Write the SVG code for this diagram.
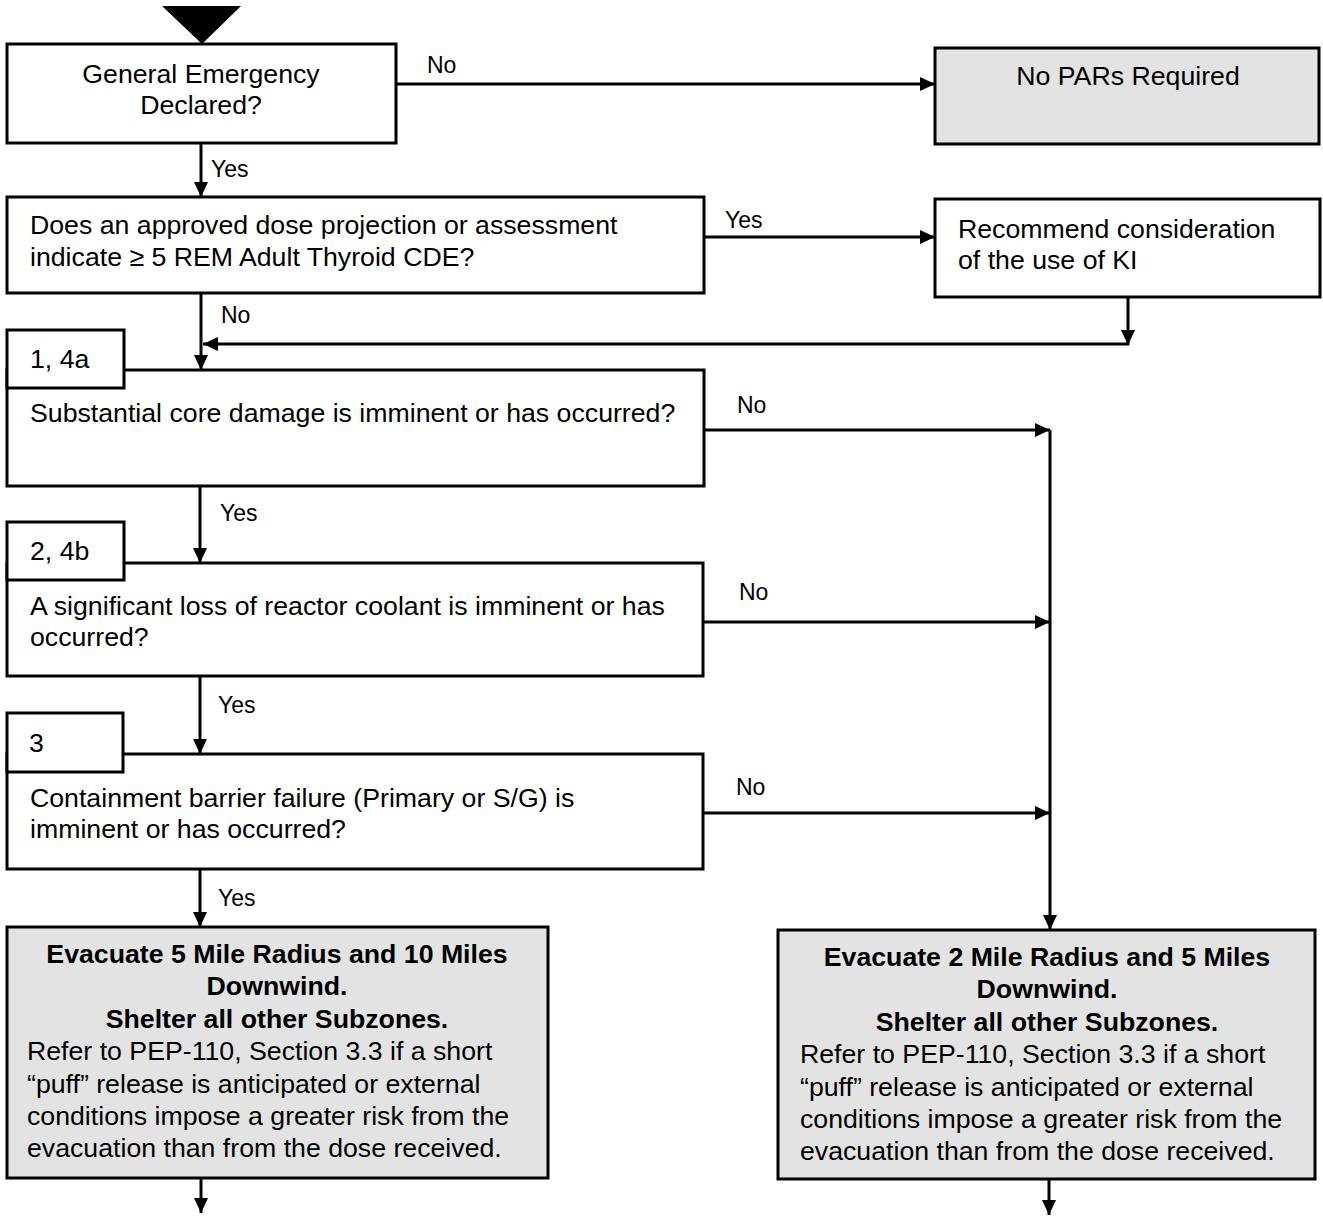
<svg xmlns="http://www.w3.org/2000/svg" width="1323" height="1218" viewBox="0 0 1323 1218">
<style>
text{font-family:"Liberation Sans",Arial,sans-serif;font-size:26.7px;fill:#000}
.lbl{font-size:23px}
.b{font-weight:bold}
.box{fill:#fff;stroke:#000;stroke-width:3}
.grey{fill:#e3e3e3;stroke:#000;stroke-width:3}
.c{fill:none;stroke:#000;stroke-width:3}
.mid{text-anchor:middle}
</style>
<defs>
<marker id="ah" markerUnits="userSpaceOnUse" markerWidth="16" markerHeight="14" refX="15" refY="7" orient="auto">
<path d="M0,0 L15,7 L0,14 z" fill="#000"/>
</marker>
</defs>
<rect width="1323" height="1218" fill="#fff"/>
<g id="start">
<polygon points="162,6 241,6 202,44" fill="#000"/>
</g>
<g id="connectors">
<path class="c" d="M396,84 H935" marker-end="url(#ah)"/>
<path class="c" d="M201,143 V197" marker-end="url(#ah)"/>
<path class="c" d="M704,237 H935" marker-end="url(#ah)"/>
<path class="c" d="M201,293 V370" marker-end="url(#ah)"/>
<path class="c" d="M1128,297 V345" marker-end="url(#ah)"/>
<path class="c" d="M1129,344 H203" marker-end="url(#ah)"/>
<path class="c" d="M704,430 H1050" marker-end="url(#ah)"/>
<path class="c" d="M200,486 V563" marker-end="url(#ah)"/>
<path class="c" d="M703,622 H1050" marker-end="url(#ah)"/>
<path class="c" d="M200,676 V754" marker-end="url(#ah)"/>
<path class="c" d="M703,813 H1050" marker-end="url(#ah)"/>
<path class="c" d="M200,869 V927" marker-end="url(#ah)"/>
<path class="c" d="M1050,430 V930" marker-end="url(#ah)"/>
<path class="c" d="M201,1178 V1213" marker-end="url(#ah)"/>
<path class="c" d="M1049,1179 V1215" marker-end="url(#ah)"/>
<text class="lbl" x="427" y="73">No</text>
<text class="lbl" x="211" y="177">Yes</text>
<text class="lbl" x="725" y="228">Yes</text>
<text class="lbl" x="221" y="323">No</text>
<text class="lbl" x="737" y="413">No</text>
<text class="lbl" x="220" y="521">Yes</text>
<text class="lbl" x="739" y="600">No</text>
<text class="lbl" x="218" y="713">Yes</text>
<text class="lbl" x="736" y="795">No</text>
<text class="lbl" x="218" y="906">Yes</text>
</g>
<g id="ge-declared">
<rect class="box" x="7" y="44" width="389" height="99"/>
<text class="mid" x="201" y="83">General Emergency</text>
<text class="mid" x="201" y="114">Declared?</text>
</g>
<g id="no-pars">
<rect class="grey" x="935" y="48" width="384" height="96"/>
<text class="mid" x="1128" y="85">No PARs Required</text>
</g>
<g id="dose-projection">
<rect class="box" x="7" y="197" width="697" height="96"/>
<text x="30" y="234">Does an approved dose projection or assessment</text>
<text x="30" y="266">indicate ≥ 5 REM Adult Thyroid CDE?</text>
</g>
<g id="ki">
<rect class="box" x="935" y="199" width="385" height="98"/>
<text x="958" y="238">Recommend consideration</text>
<text x="958" y="269">of the use of KI</text>
</g>
<g id="core-damage">
<rect class="box" x="7" y="370" width="697" height="116"/>
<rect class="box" x="7" y="330" width="117" height="58"/>
<text x="30" y="368">1, 4a</text>
<text x="30" y="422">Substantial core damage is imminent or has occurred?</text>
</g>
<g id="coolant-loss">
<rect class="box" x="7" y="563" width="696" height="113"/>
<rect class="box" x="7" y="522" width="117" height="58"/>
<text x="30" y="560">2, 4b</text>
<text x="30" y="615">A significant loss of reactor coolant is imminent or has</text>
<text x="30" y="646">occurred?</text>
</g>
<g id="containment">
<rect class="box" x="7" y="754" width="696" height="115"/>
<rect class="box" x="7" y="713" width="116" height="59"/>
<text x="29" y="752">3</text>
<text x="30" y="807">Containment barrier failure (Primary or S/G) is</text>
<text x="30" y="838">imminent or has occurred?</text>
</g>
<g id="evac-5-10">
<rect class="grey" x="7" y="927" width="541" height="251"/>
<text class="mid b" x="277" y="963">Evacuate 5 Mile Radius and 10 Miles</text>
<text class="mid b" x="277" y="995">Downwind.</text>
<text class="mid b" x="277" y="1028">Shelter all other Subzones.</text>
<text x="27" y="1060">Refer to PEP-110, Section 3.3 if a short</text>
<text x="27" y="1093">“puff” release is anticipated or external</text>
<text x="27" y="1125">conditions impose a greater risk from the</text>
<text x="27" y="1157">evacuation than from the dose received.</text>
</g>
<g id="evac-2-5">
<rect class="grey" x="778" y="930" width="537" height="249"/>
<text class="mid b" x="1047" y="966">Evacuate 2 Mile Radius and 5 Miles</text>
<text class="mid b" x="1047" y="998">Downwind.</text>
<text class="mid b" x="1047" y="1031">Shelter all other Subzones.</text>
<text x="800" y="1063">Refer to PEP-110, Section 3.3 if a short</text>
<text x="800" y="1096">“puff” release is anticipated or external</text>
<text x="800" y="1128">conditions impose a greater risk from the</text>
<text x="800" y="1160">evacuation than from the dose received.</text>
</g>
</svg>
